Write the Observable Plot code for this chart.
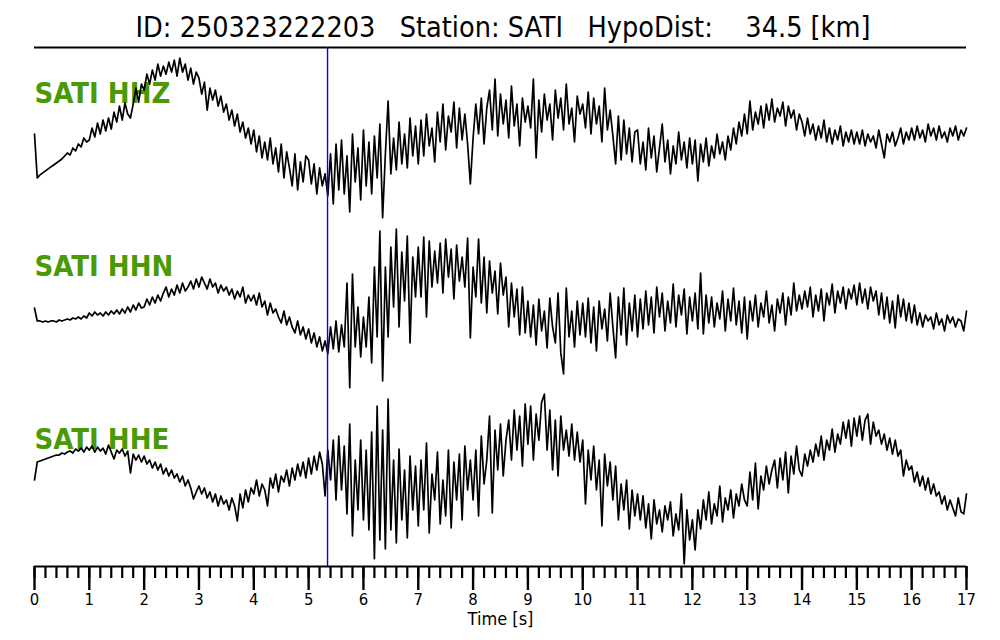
<!DOCTYPE html>
<html>
<head>
<meta charset="utf-8">
<script src="https://cdn.jsdelivr.net/npm/d3@7"></script>
<script src="https://cdn.jsdelivr.net/npm/@observablehq/plot@0.6"></script>
<style>
  body { margin: 0; background: #fff; width: 1000px; height: 640px; overflow: hidden; }
  #title { position: relative; z-index: 2; height: 40px; }
  #title span { position: absolute; left: 0; top: 14px; width: 1000px; padding-left: 3px; text-align: center;
    font-family: "DejaVu Sans Condensed", "DejaVu Sans", sans-serif; font-size: 28.5px; line-height: 1; white-space: pre; color: #000; }
  #chart { position: relative; z-index: 1; }
  #chart svg g[aria-label="x-axis tick label"], #chart svg g[aria-label="x-axis tick label"] text { font-size: 16.5px !important; }
</style>
</head>
<body>
<div id="title"><span></span></div>
<div id="chart"></div>
<script>
// ---- data ----
const eventId = "250323222203";
const station = "SATI";
const hypoDistKm = 34.5;
const channels = ["HHZ", "HHN", "HHE"];
const pickTime = 5.345;          // P pick [s]
const sampleInterval = 0.05;     // s
const ampMax = 86.67;            // normalised amplitude limit per trace

const hhz = [
  0,-44,-41,-39,-37,-35,-33,-31,-29,-27,-25,-22,-19,-21,-14,-17,-10,-13,-4,-8,
  -6,6,-3,11,0,14,3,16,5,22,12,28,14,31,20,16,30,46,32,50,
  44,60,50,64,54,70,58,68,60,72,62,74,58,76,62,70,54,66,50,62,
  56,40,52,24,46,34,44,28,38,22,30,14,24,8,20,2,12,-4,6,-10,
  4,-18,-2,-24,-8,-26,-4,-30,-14,-38,-10,-44,-18,-34,-52,-20,-56,-28,-48,-22,
  -26,-50,-30,-60,-34,-52,-40,-62,-20,-70,-10,-56,-6,-60,-22,-78,0,-48,-14,-66,
  4,-52,-8,-60,-2,-44,10,-84,-20,33,-40,-4,-36,12,-30,0,-34,16,-22,8,
  -30,14,-22,20,-12,6,-28,22,-8,30,-16,18,2,32,-14,26,-6,20,-10,-50,
  -4,30,0,36,-10,26,44,4,55,-2,40,10,34,-4,48,8,30,-12,36,12,
  28,6,55,-24,34,2,40,14,30,-6,44,16,36,4,50,10,26,-8,38,20,
  30,6,42,0,36,10,28,-8,46,4,24,-2,-30,18,-26,14,-20,6,-28,2,
  4,-30,-8,-36,6,-24,-2,-38,-14,10,-28,-6,-40,-12,-30,2,-26,-8,-34,-4,
  -30,-6,-47,-10,-28,-4,-32,-12,-24,0,-20,-8,-26,-2,-16,6,-10,12,-2,20,
  0,33,4,22,10,28,6,30,14,35,12,26,18,32,8,28,16,24,4,20,
  12,-2,16,0,10,-6,8,-4,14,-8,6,-10,4,-6,8,-12,2,-8,4,-10,
  2,-10,4,-12,0,-8,-2,-14,4,-10,-24,0,-8,2,-12,-4,6,-10,2,-6,
  6,-6,8,-4,4,-8,10,-2,6,-6,8,-4,2,-8,6,-2,8,-6,4,-2,6
];
const hhn = [
  -1,-14,-14,-15,-14,-15,-14,-14,-15,-13,-14,-13,-12,-13,-11,-12,-10,-12,-9,-11,
  -6,-9,-5,-8,-6,-9,-5,-8,-4,-7,-3,-7,-2,-6,0,-5,2,-3,4,-1,
  0,8,2,10,4,12,6,14,20,10,18,12,22,14,24,16,20,26,18,28,
  20,30,24,18,28,20,24,14,22,16,20,12,18,8,16,10,20,4,12,6,
  12,2,14,0,6,-8,4,-6,-2,-10,-16,-4,-18,-10,-20,-26,-14,-28,-20,-32,
  -22,-36,-26,-40,-30,-44,-34,-47,-20,-42,-14,-45,-18,-40,24,-81,33,-40,0,-50,
  -10,-40,10,-56,40,-30,76,-74,40,-30,60,0,78,-20,55,6,71,-36,50,10,
  60,10,70,-10,66,20,56,24,64,14,68,30,58,8,62,26,50,20,69,-31,
  40,10,68,4,50,-6,46,14,36,-7,44,12,30,-20,24,-10,18,-28,20,-26,
  6,-30,2,-38,8,-24,-4,-41,9,-20,-36,14,-46,-67,19,-30,-4,-40,6,-28,
  4,-30,9,-36,0,-44,6,-22,-2,-34,14,-20,-51,10,-28,19,-38,4,-24,12,
  -30,8,-22,16,-18,10,-26,20,-10,14,-24,6,-16,23,-20,12,-8,18,-27,10,
  -14,14,-22,34,-27,12,-16,10,-20,4,-12,16,-24,8,-14,19,-18,6,-26,10,
  -32,6,-14,12,-20,4,-10,16,-16,2,-24,8,-6,14,-18,10,-8,24,-4,12,
  -2,16,0,20,-10,12,-4,18,-14,14,2,23,-6,16,4,20,-2,18,8,22,
  2,24,4,18,-2,20,6,16,-8,14,-12,10,-16,6,-21,12,-10,8,-14,4,
  -16,2,-18,-6,-20,-8,-14,-10,-22,-6,-18,-12,-24,-8,-16,-10,-20,-12,-14,-24,-4
];
const hhe = [
  0,18,19,20,21,22,23,24,25,25,27,26,28,29,27,31,29,32,28,33,
  30,34,28,33,29,32,26,35,28,21,30,27,31,24,29,7,26,20,25,18,
  24,16,20,12,18,10,16,6,12,4,10,2,6,-2,4,-6,0,-8,-19,-12,
  -6,-14,-8,-18,-12,-22,-14,-26,-16,-24,-20,-30,-18,-26,-41,-14,-28,-10,-22,-8,
  -14,0,-16,-4,-10,-26,2,-8,6,-12,4,-2,10,-6,12,0,16,4,18,2,
  22,6,24,10,28,16,-16,30,0,40,-20,44,-10,34,-34,56,-56,20,-30,40,
  -40,30,-50,48,-79,74,-60,50,-69,81,-50,20,-63,31,-40,10,-58,24,-30,14,
  -46,20,-30,37,-53,6,-20,28,-44,0,-36,30,-48,18,-20,26,-40,34,-10,20,
  -20,30,-36,44,-4,20,64,-33,50,10,56,4,40,60,20,70,30,64,14,76,
  36,74,20,66,40,78,86,30,70,10,60,4,64,30,50,24,56,20,48,18,
  40,-24,30,0,34,-10,20,-46,26,-6,18,-20,14,-40,-4,-30,0,-49,-10,-36,
  -14,-40,-16,-48,-24,-59,-20,-44,-30,-52,-26,-40,-22,-56,-34,-50,-14,-84,-30,-60,
  -40,-70,-30,-49,-20,-40,-12,-44,-24,-36,-6,-42,-18,-30,-10,-38,-14,-26,-4,-20,
  -26,8,-20,17,-29,4,-10,14,-4,10,20,-8,22,0,28,-13,24,6,34,10,
  4,26,14,30,18,36,24,44,20,40,30,51,28,46,36,58,42,60,34,62,
  44,64,40,60,66,36,58,44,50,36,46,30,42,26,40,24,30,4,20,10,
  14,-2,8,-6,4,-10,2,-14,-4,-16,-12,-24,-16,-30,-20,-28,-36,-18,-32,-34,-14
];
const majorTicks = [0,1,2,3,4,5,6,7,8,9,10,11,12,13,14,15,16,17];
const minorStep = 0.2;
const xLabel = "Time [s]";

// ---- drawing ----
const FONT = '"DejaVu Sans Condensed", "DejaVu Sans", sans-serif';
const GREEN = "#4a9a06";
document.querySelector("#title span").textContent =
  `ID: ${eventId}   Station: ${station}   HypoDist:    ${hypoDistKm.toFixed(1)} [km]`;

const series = {HHZ: hhz, HHN: hhn, HHE: hhe};
const rows = channels.flatMap(ch => series[ch].map((v, i) => ({ch, t: i * sampleInterval, v})));
const minorTicks = d3.range(0, 17 / minorStep + 1).map(i => +(i * minorStep).toFixed(2));

const chart = Plot.plot({
  width: 1000,
  height: 600,
  marginTop: 6.5,
  marginBottom: 73.5,
  marginLeft: 34,
  marginRight: 34,
  style: {background: "transparent", fontFamily: FONT, fontSize: "16.5px", color: "black", overflow: "visible"},
  x: {domain: [0, 17], label: null},
  y: {domain: [-ampMax, ampMax], axis: null},
  fy: {domain: channels, axis: null, padding: 0},
  marks: [
    Plot.text(channels, {fy: d => d, text: d => `${station} ${d}`, frameAnchor: "top-left", dy: 46,
      lineAnchor: "middle", textAnchor: "start", fill: GREEN, fontWeight: "bold", fontSize: 29, fontFamily: FONT}),
    Plot.lineY(rows, {x: "t", y: "v", fy: "ch", stroke: "black", strokeWidth: 1.7, strokeLinejoin: "round"}),
    Plot.ruleY([{ch: "HHZ", y: ampMax}], {fy: "ch", y: "y", stroke: "black", strokeWidth: 1.8}),
    Plot.ruleY([{ch: "HHE", y: -ampMax}], {fy: "ch", y: "y", stroke: "black", strokeWidth: 2.2}),
    Plot.axisX({ticks: minorTicks, tickSize: 12, tickFormat: () => "", strokeWidth: 2.2, label: null}),
    Plot.axisX({ticks: majorTicks, tickSize: 24, tickPadding: 3, strokeWidth: 2.4, tickFormat: d => String(d), label: null, fontSize: 16.5}),
    Plot.text([{ch: "HHE", x: 8.5}], {fy: "ch", x: "x", text: () => xLabel, frameAnchor: "bottom", dy: 53,
      lineAnchor: "middle", fontSize: 18, fontFamily: FONT, fill: "black"}),
    Plot.ruleX([pickTime], {stroke: "#0000ff", strokeWidth: 1.4})
  ]
});
document.getElementById("chart").append(chart);
</script>
</body>
</html>
